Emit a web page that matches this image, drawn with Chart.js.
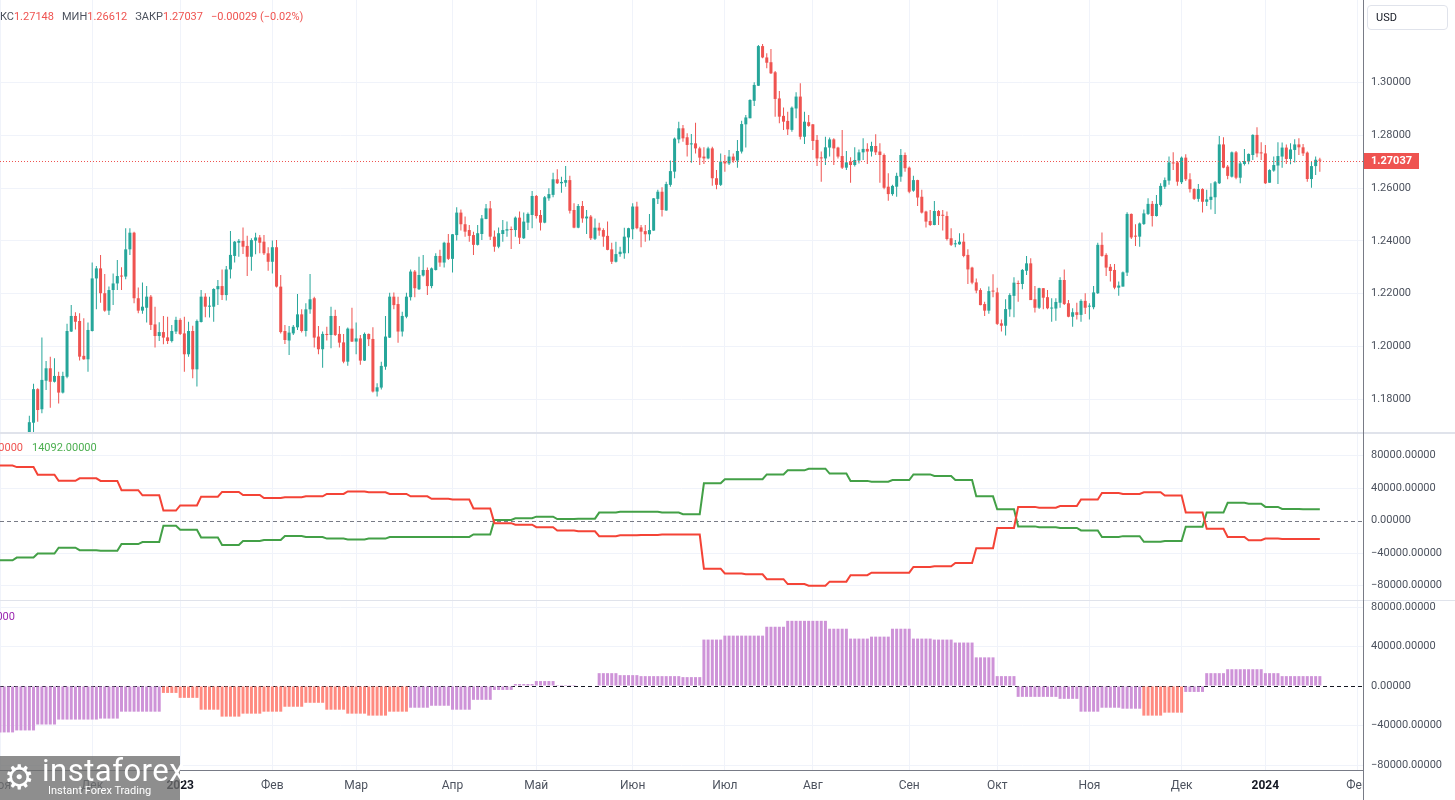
<!DOCTYPE html>
<html>
<head>
<meta charset="utf-8">
<script src="https://cdn.jsdelivr.net/npm/chart.js@4.4.1/dist/chart.umd.min.js"></script>
<style>
  html, body { margin: 0; padding: 0; background: #fff; }
  body { width: 1455px; height: 800px; position: relative; overflow: hidden; font-family: Roboto, sans-serif; }
  canvas { position: absolute; left: 0; }
  #price { top: 0; }
  #cot { top: 434px; }
  #net { top: 601px; }
  .sep { position: absolute; left: 0; width: 1455px; height: 1px; background: #e0e3eb; }
  #vline { position: absolute; left: 1363px; top: 0; width: 1px; height: 800px; background: #787b86; }
  #hdr { position: absolute; left: -17px; top: 10px; font-size: 11px; line-height: 14px; white-space: nowrap; color: #4c525e; }
  #hdr .v { color: #ef5350; margin-right: 8px; }
  #usd { position: absolute; left: 1367px; top: 5px; width: 81px; height: 25px; box-sizing: border-box;
         border: 1px solid #e0e3eb; border-radius: 4px; font-size: 11px; line-height: 23px; padding-left: 8px; color: #131722; }
  .leg { position: absolute; font-size: 11px; line-height: 14px; white-space: nowrap; }
  #logo { position: absolute; left: 0; top: 756px; width: 180px; height: 44px; background: rgba(110,110,110,0.78); color: #fff; }
  #logo .gear { position: absolute; left: 4px; top: 2px; font-size: 34px; line-height: 38px; font-family: "DejaVu Sans"; }
  #logo .name { position: absolute; left: 42px; top: -2px; font-size: 31px; line-height: 34px; letter-spacing: 0.5px; }
  #logo .sub { position: absolute; left: 48px; top: 28px; font-size: 11px; line-height: 13px; }
</style>
</head>
<body>
<canvas id="price" width="1455" height="432"></canvas>
<canvas id="cot" width="1455" height="166"></canvas>
<canvas id="net" width="1455" height="199"></canvas>
<div class="sep" style="top:432px;height:2px"></div>
<div class="sep" style="top:600px"></div>
<div id="vline"></div>
<div id="hdr"><span>МАКС</span><span class="v">1.27148</span><span>МИН</span><span class="v">1.26612</span><span>ЗАКР</span><span class="v">1.27037</span><span class="v">−0.00029 (−0.02%)</span></div>
<div id="usd">USD</div>
<div class="leg" id="legRed" style="right:1432px;top:441px;color:#ef5350"></div>
<div class="leg" id="legGreen" style="left:32px;top:441px;color:#4caf50"></div>
<div class="leg" id="legNet" style="right:1440px;top:610px;color:#9c27b0"></div>
<div id="logo"><span class="gear">⚙</span><span class="name">instaforex</span><span class="sub">Instant Forex Trading</span></div>
<script>
// daily GBP/USD candles, first visible bar = index 0
var opens = [
  1.1390,1.1712,1.1839,1.1763,1.1871,1.1918,1.1867,1.1889,1.1826,1.1886,
  1.2057,1.2116,1.2097,1.1965,1.1952,1.2059,1.2258,1.2296,1.2202,1.2136,
  1.2214,1.2239,1.2267,1.2265,1.2368,1.2431,1.2183,1.2136,1.2147,1.2189,
  1.2084,1.2040,1.2055,1.2035,1.2021,1.2057,1.2101,1.2050,1.1971,1.2059,
  1.1914,1.2093,1.2189,1.2151,1.2151,1.2217,1.2229,1.2195,1.2292,1.2343,
  1.2393,1.2400,1.2381,1.2340,1.2401,1.2413,1.2397,1.2353,1.2321,1.2376,
  1.2227,1.2059,1.2023,1.2050,1.2073,1.2122,1.2059,1.2141,1.2183,1.2038,
  1.1990,1.2048,1.2044,1.2116,1.2048,1.2016,1.1943,1.2068,1.2019,1.2031,
  1.1947,1.2048,1.2029,1.1830,1.1845,1.1924,1.2034,1.2189,1.2161,1.2057,
  1.2113,1.2187,1.2284,1.2217,1.2269,1.2290,1.2229,1.2290,1.2343,1.2318,
  1.2393,1.2332,1.2422,1.2507,1.2463,1.2441,1.2422,1.2385,1.2426,1.2483,
  1.2523,1.2416,1.2378,1.2426,1.2439,1.2445,1.2441,1.2488,1.2410,1.2469,
  1.2498,1.2570,1.2498,1.2469,1.2561,1.2574,1.2633,1.2618,1.2620,1.2630,
  1.2517,1.2450,1.2532,1.2485,1.2492,1.2408,1.2450,1.2441,1.2419,1.2368,
  1.2321,1.2350,1.2353,1.2413,1.2444,1.2530,1.2451,1.2437,1.2425,1.2439,
  1.2559,1.2586,1.2515,1.2612,1.2662,1.2784,1.2826,1.2792,1.2765,1.2769,
  1.2750,1.2719,1.2712,1.2750,1.2637,1.2612,1.2700,1.2693,1.2719,1.2704,
  1.2738,1.2841,1.2864,1.2930,1.2987,1.3137,1.3094,1.3076,1.3038,1.2939,
  1.2873,1.2854,1.2820,1.2901,1.2946,1.2794,1.2849,1.2841,1.2782,1.2716,
  1.2712,1.2753,1.2784,1.2753,1.2721,1.2677,1.2700,1.2687,1.2704,1.2735,
  1.2748,1.2738,1.2759,1.2738,1.2725,1.2605,1.2577,1.2605,1.2643,1.2725,
  1.2677,1.2590,1.2630,1.2567,1.2511,1.2475,1.2460,1.2513,1.2498,1.2494,
  1.2410,1.2387,1.2387,1.2397,1.2347,1.2299,1.2243,1.2214,1.2161,1.2136,
  1.2212,1.2205,1.2088,1.2079,1.2141,1.2192,1.2240,1.2237,1.2287,1.2315,
  1.2179,1.2147,1.2221,1.2187,1.2144,1.2144,1.2166,1.2252,1.2164,1.2113,
  1.2130,1.2120,1.2173,1.2151,1.2149,1.2202,1.2385,1.2347,1.2302,1.2290,
  1.2223,1.2227,1.2280,1.2502,1.2418,1.2416,1.2464,1.2502,1.2540,1.2494,
  1.2536,1.2605,1.2628,1.2697,1.2697,1.2622,1.2715,1.2633,1.2596,1.2559,
  1.2596,1.2548,1.2555,1.2565,1.2618,1.2765,1.2681,1.2643,1.2735,1.2639,
  1.2691,1.2700,1.2725,1.2801,1.2734,1.2731,1.2620,1.2666,1.2685,1.2719,
  1.2753,1.2710,1.2744,1.2765,1.2754,1.2734,1.2634,1.2683,1.2707
];
var highs = [
  1.1738,1.1859,1.1842,1.2034,1.1946,1.1962,1.1956,1.1905,1.1905,1.2086,
  1.2157,1.2130,1.2126,1.2107,1.2091,1.2318,1.2305,1.2347,1.2275,1.2227,
  1.2277,1.2328,1.2300,1.2448,1.2448,1.2435,1.2224,1.2243,1.2229,1.2195,
  1.2151,1.2092,1.2116,1.2113,1.2082,1.2113,1.2107,1.2113,1.2094,1.2079,
  1.2103,1.2214,1.2202,1.2189,1.2221,1.2252,1.2292,1.2305,1.2437,1.2400,
  1.2407,1.2451,1.2419,1.2410,1.2431,1.2422,1.2422,1.2376,1.2401,1.2403,
  1.2271,1.2082,1.2078,1.2082,1.2199,1.2141,1.2164,1.2275,1.2189,1.2078,
  1.2057,1.2075,1.2151,1.2139,1.2078,1.2048,1.2072,1.2147,1.2091,1.2044,
  1.2053,1.2050,1.2073,1.1861,1.1943,1.2116,1.2204,1.2205,1.2189,1.2132,
  1.2204,1.2292,1.2290,1.2340,1.2347,1.2299,1.2299,1.2353,1.2366,1.2397,
  1.2426,1.2426,1.2527,1.2519,1.2492,1.2460,1.2435,1.2460,1.2498,1.2540,
  1.2551,1.2439,1.2451,1.2479,1.2473,1.2454,1.2492,1.2511,1.2507,1.2507,
  1.2589,1.2574,1.2517,1.2570,1.2599,1.2658,1.2671,1.2643,1.2683,1.2646,
  1.2542,1.2540,1.2551,1.2517,1.2498,1.2485,1.2469,1.2448,1.2473,1.2393,
  1.2397,1.2378,1.2450,1.2450,1.2542,1.2548,1.2460,1.2460,1.2502,1.2562,
  1.2593,1.2603,1.2624,1.2704,1.2791,1.2851,1.2838,1.2807,1.2804,1.2847,
  1.2756,1.2754,1.2756,1.2756,1.2668,1.2731,1.2725,1.2744,1.2731,1.2782,
  1.2855,1.2876,1.2936,1.3000,1.3141,1.3145,1.3110,1.3126,1.3043,1.2967,
  1.2905,1.2889,1.2908,1.2962,1.2996,1.2889,1.2876,1.2842,1.2801,1.2738,
  1.2794,1.2791,1.2788,1.2756,1.2820,1.2740,1.2716,1.2754,1.2746,1.2788,
  1.2769,1.2775,1.2803,1.2769,1.2731,1.2656,1.2612,1.2658,1.2748,1.2734,
  1.2681,1.2646,1.2631,1.2593,1.2514,1.2517,1.2551,1.2517,1.2517,1.2511,
  1.2448,1.2403,1.2429,1.2429,1.2368,1.2302,1.2258,1.2221,1.2170,1.2227,
  1.2274,1.2223,1.2103,1.2179,1.2202,1.2262,1.2250,1.2294,1.2343,1.2334,
  1.2229,1.2223,1.2222,1.2214,1.2183,1.2183,1.2262,1.2292,1.2176,1.2145,
  1.2166,1.2179,1.2202,1.2164,1.2229,1.2393,1.2432,1.2353,1.2313,1.2313,
  1.2246,1.2284,1.2508,1.2504,1.2463,1.2470,1.2519,1.2561,1.2551,1.2574,
  1.2618,1.2640,1.2719,1.2735,1.2702,1.2719,1.2728,1.2656,1.2599,1.2615,
  1.2599,1.2593,1.2618,1.2627,1.2797,1.2792,1.2687,1.2738,1.2740,1.2700,
  1.2748,1.2731,1.2803,1.2830,1.2773,1.2763,1.2671,1.2719,1.2773,1.2772,
  1.2765,1.2769,1.2785,1.2788,1.2767,1.2738,1.2700,1.2719,1.27148
];
var lows = [
  1.1335,1.1675,1.1716,1.1748,1.1836,1.1769,1.1864,1.1785,1.1823,1.1880,
  1.2055,1.2065,1.1947,1.1950,1.1905,1.2057,1.2141,1.2166,1.2132,1.2120,
  1.2157,1.2214,1.2214,1.2255,1.2347,1.2164,1.2126,1.2124,1.2091,1.2063,
  1.1997,1.2021,1.2009,1.2010,1.2016,1.2048,1.2044,1.1905,1.1962,1.1880,
  1.1849,1.2091,1.2111,1.2110,1.2094,1.2157,1.2176,1.2174,1.2258,1.2318,
  1.2340,1.2350,1.2267,1.2287,1.2349,1.2353,1.2347,1.2287,1.2277,1.2224,
  1.2050,1.2010,1.1968,1.2044,1.2063,1.2053,1.2038,1.2124,1.1997,1.1971,
  1.1920,1.2023,1.1994,1.2040,1.1997,1.1937,1.1928,1.2017,1.1971,1.1931,
  1.1946,1.2002,1.1826,1.1811,1.1838,1.1912,1.2033,1.2141,1.2015,1.2038,
  1.2107,1.2174,1.2187,1.2214,1.2265,1.2195,1.2221,1.2288,1.2302,1.2299,
  1.2328,1.2280,1.2401,1.2439,1.2416,1.2397,1.2347,1.2383,1.2403,1.2482,
  1.2403,1.2359,1.2372,1.2397,1.2416,1.2369,1.2416,1.2388,1.2407,1.2441,
  1.2448,1.2485,1.2439,1.2467,1.2552,1.2565,1.2615,1.2582,1.2605,1.2504,
  1.2448,1.2448,1.2469,1.2426,1.2403,1.2403,1.2419,1.2378,1.2365,1.2313,
  1.2318,1.2340,1.2332,1.2353,1.2406,1.2444,1.2376,1.2397,1.2401,1.2438,
  1.2540,1.2492,1.2514,1.2605,1.2637,1.2769,1.2775,1.2719,1.2696,1.2731,
  1.2687,1.2691,1.2709,1.2609,1.2595,1.2608,1.2662,1.2687,1.2696,1.2677,
  1.2731,1.2753,1.2864,1.2910,1.2986,1.3091,1.3053,1.3031,1.2870,1.2845,
  1.2820,1.2801,1.2813,1.2864,1.2784,1.2767,1.2832,1.2744,1.2683,1.2624,
  1.2687,1.2719,1.2687,1.2712,1.2672,1.2668,1.2620,1.2681,1.2693,1.2706,
  1.2691,1.2719,1.2725,1.2620,1.2595,1.2552,1.2571,1.2567,1.2624,1.2662,
  1.2580,1.2586,1.2532,1.2504,1.2451,1.2456,1.2459,1.2460,1.2439,1.2401,
  1.2381,1.2376,1.2385,1.2338,1.2237,1.2236,1.2202,1.2156,1.2116,1.2124,
  1.2187,1.2082,1.2057,1.2042,1.2113,1.2111,1.2170,1.2217,1.2271,1.2176,
  1.2129,1.2142,1.2141,1.2141,1.2094,1.2098,1.2147,1.2157,1.2111,1.2075,
  1.2103,1.2094,1.2123,1.2103,1.2141,1.2199,1.2340,1.2267,1.2246,1.2217,
  1.2192,1.2227,1.2267,1.2407,1.2381,1.2378,1.2460,1.2498,1.2454,1.2492,
  1.2530,1.2596,1.2612,1.2668,1.2609,1.2615,1.2627,1.2583,1.2555,1.2548,
  1.2507,1.2532,1.2519,1.2502,1.2615,1.2675,1.2633,1.2640,1.2633,1.2618,
  1.2685,1.2690,1.2706,1.2716,1.2706,1.2615,1.2620,1.2662,1.2615,1.2677,
  1.2691,1.2690,1.2697,1.2725,1.2721,1.2624,1.2601,1.2649,1.26612
];
var closes = [
  1.1714,1.1839,1.1760,1.1874,1.1918,1.1867,1.1889,1.1826,1.1889,1.2059,
  1.2116,1.2094,1.1962,1.1952,1.2063,1.2258,1.2296,1.2202,1.2136,1.2214,
  1.2239,1.2267,1.2265,1.2368,1.2431,1.2183,1.2136,1.2151,1.2189,1.2082,
  1.2040,1.2055,1.2034,1.2021,1.2059,1.2101,1.2048,1.1971,1.2059,1.1914,
  1.2097,1.2189,1.2151,1.2155,1.2218,1.2229,1.2195,1.2292,1.2347,1.2397,
  1.2400,1.2378,1.2340,1.2403,1.2413,1.2393,1.2353,1.2321,1.2376,1.2227,
  1.2055,1.2025,1.2053,1.2075,1.2122,1.2059,1.2141,1.2179,1.2034,1.1990,
  1.2048,1.2044,1.2116,1.2044,1.2015,1.1943,1.2068,1.2019,1.2031,1.1947,
  1.2048,1.2028,1.1830,1.1846,1.1927,1.2038,1.2189,1.2157,1.2057,1.2116,
  1.2189,1.2284,1.2221,1.2271,1.2290,1.2229,1.2296,1.2343,1.2318,1.2393,
  1.2332,1.2425,1.2507,1.2463,1.2435,1.2419,1.2385,1.2429,1.2485,1.2523,
  1.2416,1.2378,1.2429,1.2441,1.2444,1.2441,1.2488,1.2412,1.2473,1.2502,
  1.2570,1.2494,1.2469,1.2565,1.2577,1.2633,1.2618,1.2623,1.2630,1.2514,
  1.2450,1.2532,1.2485,1.2492,1.2410,1.2450,1.2439,1.2416,1.2366,1.2321,
  1.2350,1.2359,1.2416,1.2448,1.2530,1.2448,1.2435,1.2425,1.2441,1.2561,
  1.2586,1.2517,1.2615,1.2664,1.2787,1.2826,1.2788,1.2763,1.2769,1.2750,
  1.2715,1.2712,1.2750,1.2637,1.2612,1.2700,1.2693,1.2719,1.2704,1.2740,
  1.2842,1.2867,1.2933,1.2990,1.3137,1.3094,1.3074,1.3034,1.2937,1.2870,
  1.2851,1.2822,1.2904,1.2946,1.2794,1.2851,1.2835,1.2778,1.2712,1.2712,
  1.2754,1.2784,1.2750,1.2719,1.2677,1.2697,1.2687,1.2706,1.2735,1.2748,
  1.2738,1.2759,1.2735,1.2725,1.2601,1.2577,1.2608,1.2646,1.2725,1.2675,
  1.2586,1.2630,1.2564,1.2507,1.2473,1.2460,1.2513,1.2494,1.2495,1.2407,
  1.2385,1.2391,1.2397,1.2343,1.2292,1.2242,1.2212,1.2157,1.2136,1.2210,
  1.2208,1.2086,1.2079,1.2142,1.2195,1.2242,1.2237,1.2290,1.2315,1.2176,
  1.2147,1.2221,1.2185,1.2145,1.2147,1.2169,1.2252,1.2161,1.2113,1.2130,
  1.2120,1.2173,1.2147,1.2155,1.2205,1.2385,1.2343,1.2299,1.2286,1.2223,
  1.2231,1.2281,1.2502,1.2413,1.2416,1.2466,1.2504,1.2540,1.2494,1.2540,
  1.2608,1.2630,1.2697,1.2693,1.2624,1.2715,1.2633,1.2596,1.2559,1.2596,
  1.2548,1.2557,1.2567,1.2622,1.2765,1.2677,1.2646,1.2735,1.2639,1.2693,
  1.2702,1.2729,1.2801,1.2731,1.2731,1.2618,1.2668,1.2687,1.2721,1.2753,
  1.2710,1.2746,1.2765,1.2754,1.2731,1.2634,1.2683,1.2707,1.27037
];

// month starts (bar index) and their labels on the time axis
var monthIdx = [-7, 15, 36, 58, 78, 101, 121, 144, 166, 187, 210, 231, 253, 275, 295, 317];
var monthLabels = ['Ноя','Дек','2023','Фев','Мар','Апр','Май','Июн','Июл','Авг','Сен','Окт','Ноя','Дек','2024','Фев'];

var priceTicks = [1.18, 1.20, 1.22, 1.24, 1.26, 1.28, 1.30];
var cotTicks = [-80000, -40000, 0, 40000, 80000];

// weekly COT values: first bar index of each week
var weekStarts = [-8,-3,2,7,12,17,22,27,32,36,41,46,51,56,61,66,71,76,81,86,91,96,101,106,111,116,121,126,131,136,141,146,
  151,156,161,166,171,176,181,186,191,196,201,206,211,216,221,226,231,236,241,246,251,256,261,266,271,276,281,286,291,295,299,304];
var cotRed = [68000,66000,56600,49100,52100,49000,37500,31250,12500,18750,29600,35400,31700,27900,28750,
  30000,33000,36000,35000,33000,30000,27000,26000,15000,-3000,-5000,-8000,-12000,-13000,-19000,
  -18000,-17500,-17000,-17000,-59000,-65000,-66000,-72000,-78000,-80000,-75000,-67000,-64000,-64000,-57000,
  -56000,-52000,-34000,-9000,17000,16000,18000,26000,34000,33000,35000,31000,10000,-10000,-20000,
  -24000,-22000,-22500,-22564];
var cotGreen = [-48750,-45400,-40400,-33300,-36250,-37100,-28750,-26250,-6250,-11250,-20800,-30000,-25000,-23750,-18750,
  -20000,-22000,-23000,-22000,-20000,-20000,-20000,-20000,-17000,1000,3000,5000,2000,2500,10000,
  11000,11000,10000,8000,46000,51000,51000,57000,62000,64000,58000,49000,48000,50000,57000,
  55000,50000,30000,14000,-7000,-8000,-9000,-12000,-20000,-19000,-26000,-25000,-7500,10000,22000,
  21000,17000,14500,14092];
var netVals = [-47000,-45000,-39000,-34000,-34000,-33000,-26000,-26000,-7000,-12000,-24000,-31000,-28000,-26000,-21000,
  -17000,-24000,-28000,-30000,-26000,-22000,-20000,-24000,-14000,-4000,2000,5000,1000,0,13000,
  11000,10000,10000,9000,47000,51000,51000,60000,66000,66000,58000,48000,50000,58000,48000,
  47000,44000,29000,10000,-11000,-11000,-13000,-26000,-22000,-23000,-30000,-27000,-6000,13000,17000,
  17000,13000,10000,10000];
var netFalling = [0,0,0,0,0,0,0,0,1,1,1,1,1,1,1,1,1,1,1,1,0,0,0,0,0,0,0,0,0,0,0,0,0,0,0,0,0,0,0,0,
  0,0,0,0,0,0,0,0,0,0,0,0,0,0,0,1,1,0,0,0,0,0,0,0];

var UP = '#26a69a', DOWN = '#ef5350';
var GRID = '#f0f3fa', TXT = '#4c525e';
var AXIS_W = 92;
var lastBar = opens.length - 1;
var lastClose = closes[lastBar];

Chart.defaults.font.family = 'Roboto, sans-serif';
Chart.defaults.font.size = 11;

function fmt(v) {
  return (v < 0 ? '−' : '') + Math.abs(v).toFixed(5);
}

function expandWeeks(vals) {
  var pts = [];
  weekStarts.forEach(function (s, w) {
    var e = w + 1 < weekStarts.length ? weekStarts[w + 1] - 1 : lastBar;
    for (var i = s; i <= e; i++) pts.push({ x: i, y: vals[w] });
  });
  return pts;
}

function xAxis(labels) {
  return {
    type: 'linear', min: -7, max: 318.3, offset: false,
    afterBuildTicks: function (s) { s.ticks = monthIdx.map(function (v) { return { value: v }; }); },
    afterFit: function (s) {
      s.height = labels ? 30 : 0;
      s.paddingLeft = 0; s.paddingRight = 0;
    },
    grid: { color: GRID, drawTicks: false, offset: false },
    border: { display: labels, color: '#787b86' },
    ticks: {
      display: labels, autoSkip: false, maxRotation: 0, padding: 9,
      color: function (c) { return /^\d{4}$/.test(monthLabels[c.index]) ? '#131722' : TXT; },
      font: function (c) { return { size: 12, weight: /^\d{4}$/.test(monthLabels[c.index]) ? 'bold' : 'normal' }; },
      callback: function (v, i) { return monthLabels[i]; }
    }
  };
}

function yAxis(min, max, ticks, format) {
  return {
    type: 'linear', position: 'right', min: min, max: max,
    afterBuildTicks: function (s) { s.ticks = ticks.map(function (v) { return { value: v }; }); },
    afterFit: function (s) {
      s.width = AXIS_W;
      s.paddingTop = 0; s.paddingBottom = 0;
    },
    grid: { drawTicks: false, color: function (c) { return c.tick && c.tick.value === 0 ? 'rgba(0,0,0,0)' : GRID; } },
    border: { display: false },
    ticks: { padding: 8, color: TXT, font: { size: 11 }, callback: format }
  };
}

var zeroLine = {
  id: 'zeroLine',
  beforeDatasetsDraw: function (chart, args, opts) {
    if (!opts.color) return;
    var a = chart.chartArea, ctx = chart.ctx;
    var y = Math.round(chart.scales.y.getPixelForValue(0)) + 0.5;
    ctx.save();
    ctx.strokeStyle = opts.color;
    ctx.lineWidth = 1;
    ctx.setLineDash([4, 3]);
    ctx.beginPath(); ctx.moveTo(a.left, y); ctx.lineTo(a.right, y); ctx.stroke();
    ctx.restore();
  }
};

var priceLine = {
  id: 'priceLine',
  afterDraw: function (chart) {
    var a = chart.chartArea, ctx = chart.ctx;
    var y = Math.round(chart.scales.y.getPixelForValue(lastClose)) + 0.5;
    ctx.save();
    ctx.strokeStyle = DOWN; ctx.lineWidth = 1; ctx.setLineDash([1, 2]);
    ctx.beginPath(); ctx.moveTo(a.left, y); ctx.lineTo(a.right, y); ctx.stroke();
    ctx.setLineDash([]);
    ctx.fillStyle = closes[lastBar] >= opens[lastBar] ? UP : DOWN;
    ctx.fillRect(a.right, y - 8.5, 56, 16);
    ctx.fillStyle = '#fff'; ctx.font = 'bold 11px Roboto, sans-serif'; ctx.textBaseline = 'middle';
    ctx.fillText(lastClose.toFixed(5), a.right + 8, y);
    ctx.restore();
  }
};

var clipAxisRow = {
  id: 'clipAxisRow',
  afterDraw: function (chart) {
    var a = chart.chartArea, ctx = chart.ctx;
    ctx.save(); ctx.fillStyle = '#fff';
    ctx.fillRect(a.right + 1, a.bottom + 1, chart.width - a.right, chart.height - a.bottom);
    ctx.restore();
  }
};

function candleColor(c) {
  var i = c.dataIndex;
  return closes[i] >= opens[i] ? UP : DOWN;
}

var common = {
  responsive: false, animation: false, events: [],
  layout: { padding: 0, autoPadding: false }
};

new Chart(document.getElementById('price'), {
  type: 'bar',
  data: {
    datasets: [{
      data: opens.map(function (o, i) { return { x: i, y: [o, closes[i]] }; }),
      backgroundColor: candleColor, barThickness: 3, minBarLength: 1, grouped: false, inflateAmount: 0
    }, {
      data: opens.map(function (o, i) { return { x: i, y: [lows[i], highs[i]] }; }),
      backgroundColor: candleColor, barThickness: 1, grouped: false, inflateAmount: 0
    }]
  },
  options: Object.assign({}, common, {
    scales: {
      x: xAxis(false),
      y: yAxis(1.16769, 1.33114, priceTicks, function (v) { return v.toFixed(5); })
    },
    plugins: { legend: { display: false }, tooltip: { enabled: false }, zeroLine: {} }
  }),
  plugins: [priceLine]
});

new Chart(document.getElementById('cot'), {
  type: 'line',
  data: {
    datasets: [{
      data: expandWeeks(cotRed), borderColor: '#f44336', borderWidth: 2, pointRadius: 0, tension: 0
    }, {
      data: expandWeeks(cotGreen), borderColor: '#43a047', borderWidth: 2, pointRadius: 0, tension: 0
    }]
  },
  options: Object.assign({}, common, {
    scales: { x: xAxis(false), y: yAxis(-97600, 106700, cotTicks, fmt) },
    plugins: { legend: { display: false }, tooltip: { enabled: false }, zeroLine: { color: '#787b86' } }
  }),
  plugins: [zeroLine]
});

var netBars = expandWeeks(netVals);
var netColors = [];
weekStarts.forEach(function (s, w) {
  var e = w + 1 < weekStarts.length ? weekStarts[w + 1] - 1 : lastBar;
  for (var i = s; i <= e; i++) netColors.push(netFalling[w] ? '#ff8a80' : '#ce93d8');
});

new Chart(document.getElementById('net'), {
  type: 'bar',
  data: {
    datasets: [{
      data: netBars, backgroundColor: netColors, barThickness: 3, grouped: false, inflateAmount: 0
    }]
  },
  options: Object.assign({}, common, {
    scales: { x: xAxis(true), y: yAxis(-85063, 86076, cotTicks, fmt) },
    plugins: { legend: { display: false }, tooltip: { enabled: false }, zeroLine: { color: '#131722' } }
  }),
  plugins: [zeroLine, clipAxisRow]
});

document.getElementById('legRed').textContent = fmt(cotRed[cotRed.length - 1]);
document.getElementById('legGreen').textContent = fmt(cotGreen[cotGreen.length - 1]);
document.getElementById('legNet').textContent = fmt(netVals[netVals.length - 1]);
</script>
</body>
</html>
